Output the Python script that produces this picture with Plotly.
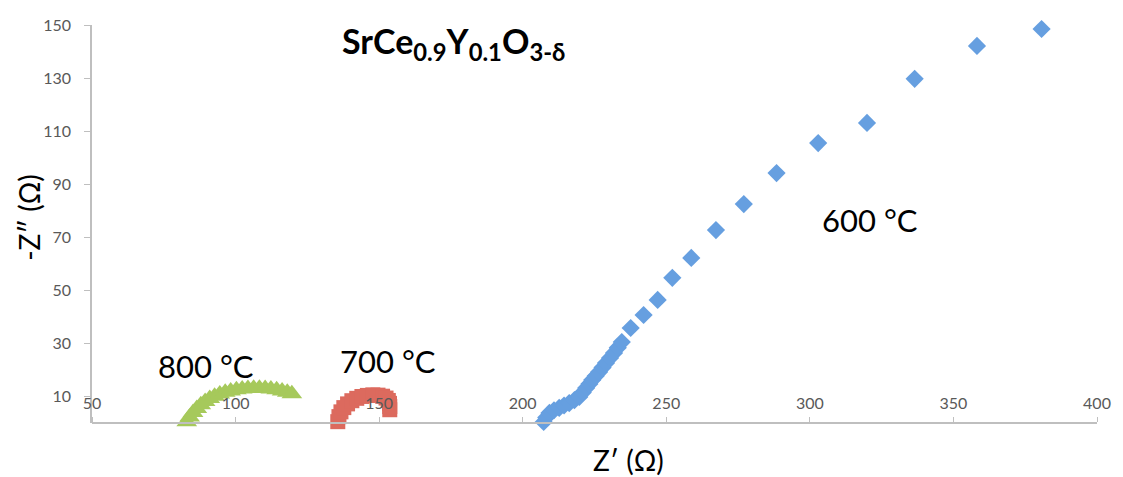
import plotly.graph_objects as go

# 600 °C (blue diamonds)
z_re_600 = [207.2, 207.3, 208.2, 209.3, 210.9, 212.7, 214.4, 216.2, 218.0, 219.7, 220.9,
            222.1, 223.2, 224.2, 225.4, 226.6, 227.8, 229.0, 230.4, 231.8, 233.1, 234.5,
            237.6, 242.1, 247.0, 252.1, 258.7, 267.3, 277.0, 288.4, 302.9, 319.9, 336.5,
            358.2, 380.7]
z_im_600 = [-1.2, 0.4, 2.1, 3.8, 4.8, 5.7, 6.6, 7.5, 8.6, 9.8, 11.5,
            13.2, 14.7, 16.2, 17.7, 19.2, 20.9, 22.6, 24.5, 26.4, 28.4, 30.5,
            35.8, 40.7, 46.4, 54.7, 62.2, 72.7, 82.5, 94.2, 105.5, 113.1, 129.7,
            142.1, 148.5]

# 700 °C (red squares)
z_re_700 = [135.5, 135.6, 136.0, 136.7, 137.7, 139.0, 140.5, 142.2, 144.0, 145.9,
            147.8, 149.6, 151.2, 152.4, 153.2, 153.6, 153.7, 153.7]
z_im_700 = [-1.5, 0.5, 2.4, 4.2, 5.8, 7.2, 8.4, 9.3, 10.0, 10.4,
            10.6, 10.5, 10.1, 9.4, 8.5, 7.4, 6.2, 5.0]

# 800 °C (green triangles)
z_re_800 = [82.3, 83.0, 84.0, 85.2, 86.5, 87.9, 89.4, 91.0, 92.7, 94.5, 96.4, 98.3,
            100.3, 102.3, 104.3, 106.3, 108.3, 110.3, 112.3, 114.3, 116.2, 118.0, 119.6]
z_im_800 = [-1.5, 0.5, 2.3, 4.0, 5.5, 6.9, 8.1, 9.2, 10.1, 10.9, 11.6, 12.1,
            12.5, 12.8, 13.0, 13.1, 13.1, 13.0, 12.8, 12.5, 12.1, 11.6, 11.0]

x_ticks = [50, 100, 150, 200, 250, 300, 350, 400]
y_ticks = [10, 30, 50, 70, 90, 110, 130, 150]

FONT = "Lato"
TICK_COLOR = "#595959"
AXIS_COLOR = "#bfbfbf"

fig = go.Figure()
fig.add_trace(go.Scatter(x=z_re_800, y=z_im_800, mode="markers", name="800 °C",
                         marker=dict(symbol="triangle-up", size=18, color="#a6c95b"),
                         cliponaxis=False))
fig.add_trace(go.Scatter(x=z_re_700, y=z_im_700, mode="markers", name="700 °C",
                         marker=dict(symbol="square", size=15, color="#dc6a5e"),
                         cliponaxis=False))
fig.add_trace(go.Scatter(x=z_re_600, y=z_im_600, mode="markers", name="600 °C",
                         marker=dict(symbol="diamond", size=14, color="#669fe0"),
                         cliponaxis=False))

fig.update_layout(
    width=1123, height=477,
    margin=dict(l=92, r=18, t=25, b=54),
    paper_bgcolor="white", plot_bgcolor="white",
    showlegend=False,
    font=dict(family=FONT, color="#000000"),
    xaxis=dict(range=[50, 400], tickvals=x_ticks, side="top", anchor="free", position=0,
               showgrid=False, zeroline=False, showline=True, linecolor=AXIS_COLOR, linewidth=1.5,
               ticks="outside", ticklen=5, tickcolor=AXIS_COLOR,
               tickfont=dict(family=FONT, size=16, color=TICK_COLOR), ticklabelstandoff=2),
    yaxis=dict(range=[0, 150], tickvals=y_ticks,
               showgrid=False, zeroline=False, showline=True, linecolor=AXIS_COLOR, linewidth=1.5,
               ticks="outside", ticklen=6, tickcolor=AXIS_COLOR,
               tickfont=dict(family=FONT, size=16, color=TICK_COLOR), ticklabelstandoff=10),
)

annotations = [
    dict(text="<b>SrCe<sub>0.9</sub>Y<sub>0.1</sub>O<sub>3-δ</sub></b>", x=0.36, y=0.955,
         xref="paper", yref="paper", showarrow=False, font=dict(size=34, family=FONT),
         xanchor="center", yanchor="middle"),
    dict(text="600 °C", x=321.0, y=76.5, showarrow=False, font=dict(size=31, family=FONT)),
    dict(text="800 °C", x=89.7, y=21.5, showarrow=False, font=dict(size=31, family=FONT)),
    dict(text="700 °C", x=153.0, y=23.4, showarrow=False, font=dict(size=31, family=FONT)),
    dict(text="Z′ (Ω)", x=0.534, y=-0.093, xref="paper", yref="paper", showarrow=False,
         font=dict(size=28, family=FONT), xanchor="center", yanchor="middle"),
    dict(text="-Z″ (Ω)", x=-0.063, y=0.515, xref="paper", yref="paper", showarrow=False,
         textangle=-90, font=dict(size=28, family=FONT), xanchor="center", yanchor="middle"),
]
fig.update_layout(annotations=annotations)

fig.write_html("out.html")
